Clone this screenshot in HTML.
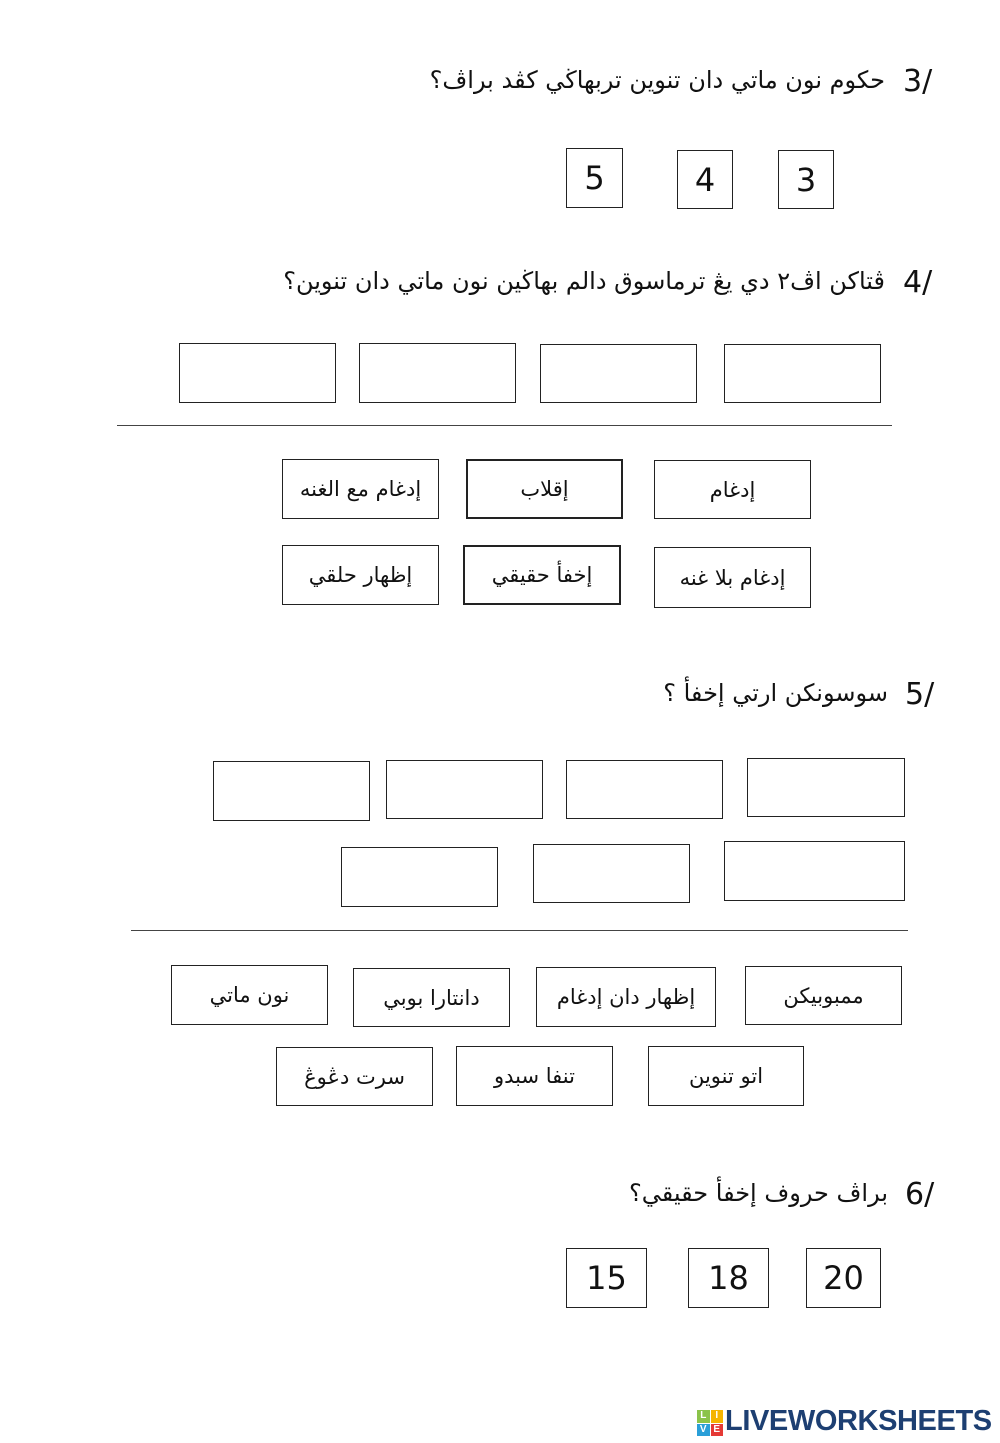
<!DOCTYPE html>
<html><head><meta charset="utf-8"><style>
body{margin:0;width:1000px;height:1443px;background:#fff;position:relative;overflow:hidden;font-family:"DejaVu Serif","DejaVu Sans",serif;}
.b{position:absolute;border:1.5px solid #222;box-sizing:border-box;display:flex;align-items:center;justify-content:center;direction:rtl;font-size:21px;color:#111;}
.n{font-family:"DejaVu Sans","Liberation Sans",sans-serif;font-size:32px;}
.q{position:absolute;direction:rtl;font-size:24px;white-space:nowrap;color:#111;}
.num{position:absolute;font-family:"DejaVu Sans","Liberation Sans",sans-serif;font-size:30px;color:#111;}
.l{position:absolute;height:1px;background:#444;}
</style></head><body>

<div class="num" style="left:903px;top:64px">3/</div>
<div class="q" style="right:115px;top:66px">حكوم نون ماتي دان تنوين تربهاڬي كڤد براڤ؟</div>
<div class="b n" style="left:566px;top:148px;width:57px;height:60px">5</div>
<div class="b n" style="left:677px;top:150px;width:56px;height:59px">4</div>
<div class="b n" style="left:778px;top:150px;width:56px;height:59px">3</div>

<div class="num" style="left:903px;top:265px">4/</div>
<div class="q" style="right:115px;top:267px">ڤتاكن اڤ٢ دي يڠ ترماسوق دالم بهاڬين نون ماتي دان تنوين؟</div>
<div class="b" style="left:179px;top:343px;width:157px;height:60px"></div>
<div class="b" style="left:359px;top:343px;width:157px;height:60px"></div>
<div class="b" style="left:540px;top:344px;width:157px;height:59px"></div>
<div class="b" style="left:724px;top:344px;width:157px;height:59px"></div>
<div class="l" style="left:117px;top:425px;width:775px"></div>

<div class="b" style="left:282px;top:459px;width:157px;height:60px">إدغام مع الغنه</div>
<div class="b" style="left:466px;top:459px;width:157px;height:60px;border-width:2px">إقلاب</div>
<div class="b" style="left:654px;top:460px;width:157px;height:59px">إدغام</div>
<div class="b" style="left:282px;top:545px;width:157px;height:60px">إظهار حلقي</div>
<div class="b" style="left:463px;top:545px;width:158px;height:60px;border-width:2px">إخفأ حقيقي</div>
<div class="b" style="left:654px;top:547px;width:157px;height:61px">إدغام بلا غنه</div>

<div class="num" style="left:905px;top:677px">5/</div>
<div class="q" style="right:112px;top:679px">سوسونكن ارتي إخفأ ؟</div>
<div class="b" style="left:213px;top:761px;width:157px;height:60px"></div>
<div class="b" style="left:386px;top:760px;width:157px;height:59px"></div>
<div class="b" style="left:566px;top:760px;width:157px;height:59px"></div>
<div class="b" style="left:747px;top:758px;width:158px;height:59px"></div>
<div class="b" style="left:341px;top:847px;width:157px;height:60px"></div>
<div class="b" style="left:533px;top:844px;width:157px;height:59px"></div>
<div class="b" style="left:724px;top:841px;width:181px;height:60px"></div>
<div class="l" style="left:131px;top:930px;width:777px"></div>

<div class="b" style="left:171px;top:965px;width:157px;height:60px">نون ماتي</div>
<div class="b" style="left:353px;top:968px;width:157px;height:59px">دانتارا بوبي</div>
<div class="b" style="left:536px;top:967px;width:180px;height:60px">إظهار دان إدغام</div>
<div class="b" style="left:745px;top:966px;width:157px;height:59px">ممبوبيكن</div>
<div class="b" style="left:276px;top:1047px;width:157px;height:59px">سرت دڠوڠ</div>
<div class="b" style="left:456px;top:1046px;width:157px;height:60px">تنفا سبدو</div>
<div class="b" style="left:648px;top:1046px;width:156px;height:60px">اتو تنوين</div>

<div class="num" style="left:905px;top:1177px">6/</div>
<div class="q" style="right:112px;top:1179px">براڤ حروف إخفأ حقيقي؟</div>
<div class="b n" style="left:566px;top:1248px;width:81px;height:60px">15</div>
<div class="b n" style="left:688px;top:1248px;width:81px;height:60px">18</div>
<div class="b n" style="left:806px;top:1248px;width:75px;height:60px">20</div>

<div style="position:absolute;left:697px;top:1410px;width:26px;height:26px;display:grid;grid-template-columns:1fr 1fr;gap:1px;font:bold 10px 'Liberation Sans',sans-serif;color:#fff;text-align:center;line-height:12px">
<div style="background:#8bc34a">L</div><div style="background:#f5b400">I</div><div style="background:#2a9fd8">V</div><div style="background:#e53935">E</div></div>
<div style="position:absolute;left:725px;top:1405px;font:bold 29px 'Liberation Sans',sans-serif;color:#1d3f72;letter-spacing:-0.4px">LIVEWORKSHEETS</div>
</body></html>
